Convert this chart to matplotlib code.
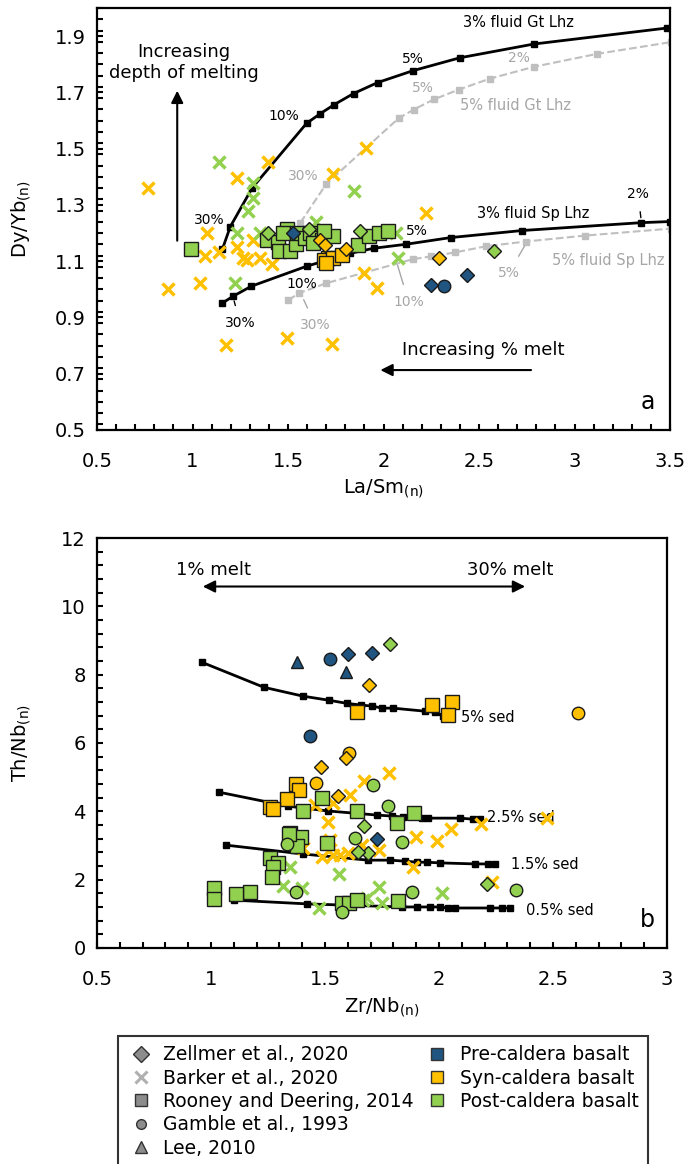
import numpy as np
import matplotlib
matplotlib.use("Agg")
import matplotlib.pyplot as plt
from matplotlib.lines import Line2D
from matplotlib.ticker import MultipleLocator

plt.rcParams['font.family'] = ['DejaVu Sans']
plt.rcParams['mathtext.default'] = 'regular'

blue = "#1F5580"
orange = "#FFC000"
green = "#92D050"
light = "#BFBFBF"
gtxt = "#A6A6A6"

# ---------------- panel a: La/Sm vs Dy/Yb ----------------
gt3_x = [1.156, 1.198, 1.313, 1.597, 1.670, 1.743, 1.843, 1.969, 2.153, 2.399, 2.787, 3.485]
gt3_y = [1.142, 1.223, 1.361, 1.590, 1.625, 1.657, 1.696, 1.735, 1.777, 1.823, 1.872, 1.929]
gt5_x = [1.565, 1.701, 2.079, 2.158, 2.263, 2.394, 2.557, 2.787, 3.118, 3.506]
gt5_y = [1.237, 1.375, 1.608, 1.639, 1.675, 1.710, 1.749, 1.791, 1.837, 1.879]
sp3_x = [1.156, 1.214, 1.308, 1.597, 1.827, 1.948, 2.116, 2.352, 2.725, 3.349, 3.5]
sp3_y = [0.951, 0.976, 1.011, 1.082, 1.128, 1.146, 1.160, 1.184, 1.209, 1.237, 1.241]
sp5_x = [1.502, 1.560, 1.701, 2.153, 2.247, 2.373, 2.536, 2.746, 3.055, 3.506]
sp5_y = [0.962, 0.987, 1.022, 1.107, 1.117, 1.131, 1.153, 1.170, 1.191, 1.216]

a_barker_syn_x = [0.768, 0.873, 1.040, 1.067, 1.077, 1.140, 1.235, 1.266, 1.287, 1.318, 1.355, 1.418,
                  1.235, 1.397, 1.733, 1.906, 2.221, 1.680, 1.896, 1.964, 1.177, 1.497, 1.728]
a_barker_syn_y = [1.362, 1.000, 1.021, 1.117, 1.199, 1.131, 1.149, 1.110, 1.103, 1.177, 1.113, 1.089,
                  1.397, 1.454, 1.411, 1.504, 1.270, 1.206, 1.057, 1.004, 0.801, 0.826, 0.805]
a_barker_post_x = [1.140, 1.318, 1.318, 1.292, 1.843, 1.644, 1.235, 1.355, 1.224, 2.074, 2.063]
a_barker_post_y = [1.454, 1.379, 1.326, 1.280, 1.348, 1.238, 1.202, 1.202, 1.021, 1.110, 1.199]
a_rooney_post_x = [0.993, 1.392, 1.450, 1.455, 1.513, 1.544, 1.497, 1.476, 1.549, 1.591, 1.617, 1.649,
                   1.680, 1.633, 1.738, 1.869, 1.922, 1.974, 2.021, 1.686]
a_rooney_post_y = [1.142, 1.177, 1.170, 1.135, 1.138, 1.160, 1.216, 1.202, 1.199, 1.181, 1.202, 1.184,
                   1.174, 1.163, 1.188, 1.156, 1.188, 1.202, 1.206, 1.209]
a_rooney_syn_x = [1.712, 1.686, 1.738, 1.785, 1.700]
a_rooney_syn_y = [1.113, 1.103, 1.113, 1.121, 1.095]
a_zellmer_post_x = [1.397, 1.612, 1.875, 2.578]
a_zellmer_post_y = [1.202, 1.216, 1.209, 1.138]
a_zellmer_syn_x = [1.670, 1.696, 1.806, 2.289]
a_zellmer_syn_y = [1.177, 1.156, 1.142, 1.110]
a_zellmer_pre_x = [1.528, 2.247, 2.436]
a_zellmer_pre_y = [1.199, 1.014, 1.050]
a_gamble_pre_x = [2.315]
a_gamble_pre_y = [1.011]

# ---------------- panel b: Zr/Nb vs Th/Nb ----------------
sed5_x = [0.961, 1.232, 1.404, 1.518, 1.596, 1.658, 1.706, 1.750, 1.798, 1.939, 1.982, 2.018]
sed5_y = [8.36, 7.63, 7.37, 7.25, 7.16, 7.11, 7.08, 7.02, 7.02, 6.93, 6.90, 6.78]
sed25_x = [1.035, 1.338, 1.513, 1.728, 1.794, 1.842, 1.925, 1.952, 2.092, 2.149, 2.180]
sed25_y = [4.56, 4.15, 4.01, 3.89, 3.86, 3.83, 3.80, 3.80, 3.80, 3.77, 3.77]
sed15_x = [1.066, 1.404, 1.689, 1.785, 1.851, 1.904, 1.947, 2.004, 2.158, 2.215, 2.246]
sed15_y = [3.01, 2.75, 2.57, 2.57, 2.54, 2.51, 2.51, 2.49, 2.46, 2.46, 2.46]
sed05_x = [1.101, 1.421, 1.838, 1.904, 1.961, 2.004, 2.039, 2.070, 2.224, 2.276, 2.311]
sed05_y = [1.40, 1.29, 1.20, 1.20, 1.20, 1.20, 1.17, 1.17, 1.17, 1.17, 1.17]

b_zellmer_pre_x = [1.601, 1.706, 1.728]
b_zellmer_pre_y = [8.60, 8.63, 3.19]
b_zellmer_syn_x = [1.693, 1.592, 1.482, 1.557]
b_zellmer_syn_y = [7.69, 5.56, 5.29, 4.44]
b_zellmer_post_x = [1.785, 1.671, 1.689, 1.645, 2.211]
b_zellmer_post_y = [8.89, 3.57, 2.78, 2.80, 1.87]
b_gamble_pre_x = [1.522, 1.434]
b_gamble_pre_y = [8.45, 6.20]
b_gamble_syn_x = [2.610, 1.605, 1.461]
b_gamble_syn_y = [6.87, 5.70, 4.82]
b_gamble_post_x = [1.711, 1.776, 1.632, 1.838, 1.333, 1.373, 1.575, 1.882, 2.338]
b_gamble_post_y = [4.77, 4.15, 3.22, 3.10, 3.04, 1.64, 1.05, 1.64, 1.70]
b_lee_pre_x = [1.377, 1.592]
b_lee_pre_y = [8.36, 8.07]
b_rooney_syn_x = [1.640, 1.969, 2.057, 2.039, 1.373, 1.386, 1.333, 1.259, 1.272]
b_rooney_syn_y = [6.90, 7.11, 7.19, 6.81, 4.80, 4.62, 4.36, 4.12, 4.06]
b_rooney_post_x = [1.487, 1.404, 1.640, 1.816, 1.890, 1.346, 1.395, 1.377, 1.509, 1.259, 1.294,
                   1.272, 1.268, 1.171, 1.013, 1.013, 1.110, 1.575, 1.605, 1.640, 1.820, 1.342]
b_rooney_post_y = [4.39, 4.01, 4.01, 3.65, 3.95, 3.36, 3.25, 2.98, 3.07, 2.63, 2.50,
                   2.38, 2.08, 1.64, 1.75, 1.43, 1.58, 1.32, 1.32, 1.40, 1.37, 3.33]
b_barker_syn_x = [1.456, 1.535, 1.610, 1.671, 1.781, 1.513, 1.522, 1.404, 1.487, 1.535, 1.566,
                  1.601, 1.662, 1.737, 1.899, 1.991, 2.053, 1.886, 2.184, 2.232, 2.474]
b_barker_syn_y = [4.18, 4.24, 4.47, 4.88, 5.12, 3.68, 3.16, 2.92, 2.66, 2.72, 2.72,
                  2.78, 3.01, 2.87, 3.25, 3.13, 3.48, 2.37, 3.63, 1.93, 3.80]
b_barker_post_x = [1.561, 1.316, 1.399, 1.474, 1.667, 1.684, 1.737, 1.750, 2.013, 1.346]
b_barker_post_y = [2.16, 1.81, 1.75, 1.17, 1.40, 1.46, 1.78, 1.32, 1.61, 2.37]

fig = plt.figure(figsize=(6.86, 11.64), dpi=100)
ax1 = fig.add_axes([0.1414, 0.6306, 0.8353, 0.3625])
ax2 = fig.add_axes([0.1414, 0.1856, 0.8309, 0.3522])

def pts(ax, x, y, marker, color, ms):
    if marker == 'x':
        ax.plot(x, y, ls='none', marker='x', color=color, ms=ms, mew=2.5, zorder=4)
    else:
        ax.plot(x, y, ls='none', marker=marker, mfc=color, mec='#1a1a1a', mew=1.0, ms=ms, zorder=5)

# panel a curves
ax1.plot(gt5_x, gt5_y, ls='--', color=light, lw=1.5, marker='s', ms=4.5, zorder=2)
ax1.plot(sp5_x, sp5_y, ls='--', color=light, lw=1.5, marker='s', ms=4.5, zorder=2)
ax1.plot(gt3_x, gt3_y, color='black', lw=2, marker='s', ms=4.5, zorder=3)
ax1.plot(sp3_x, sp3_y, color='black', lw=2, marker='s', ms=4.5, zorder=3)

pts(ax1, a_barker_syn_x, a_barker_syn_y, 'x', orange, 9)
pts(ax1, a_barker_post_x, a_barker_post_y, 'x', green, 9)
pts(ax1, a_rooney_post_x, a_rooney_post_y, 's', green, 9.5)
pts(ax1, a_rooney_syn_x, a_rooney_syn_y, 's', orange, 9.5)
pts(ax1, a_zellmer_post_x, a_zellmer_post_y, 'D', green, 7.5)
pts(ax1, a_zellmer_syn_x, a_zellmer_syn_y, 'D', orange, 7.5)
pts(ax1, a_zellmer_pre_x, a_zellmer_pre_y, 'D', blue, 7.5)
pts(ax1, a_gamble_pre_x, a_gamble_pre_y, 'o', blue, 9)

lab = dict(fontsize=10, ha='center', va='center')
ax1.text(2.704, 1.947, "3% fluid Gt Lhz", fontsize=10.5, ha='center', va='center')
ax1.text(2.153, 1.819, "5%", **lab)
ax1.text(1.476, 1.617, "10%", **lab)
ax1.text(1.088, 1.245, "30%", **lab)
ax1.text(2.709, 1.823, "2%", color=gtxt, **lab)
ax1.text(2.205, 1.716, "5%", color=gtxt, **lab)
ax1.text(2.693, 1.652, "5% fluid Gt Lhz", color=gtxt, fontsize=10.5, ha='center', va='center')
ax1.text(1.581, 1.404, "30%", color=gtxt, **lab)
ax1.text(2.782, 1.270, "3% fluid Sp Lhz", fontsize=10.5, ha='center', va='center')
ax1.text(2.174, 1.209, "5%", **lab)
ax1.text(3.176, 1.103, "5% fluid Sp Lhz", color=gtxt, fontsize=10.5, ha='center', va='center')
ax1.text(1.570, 1.018, "10%", **lab)

lead = dict(arrowstyle='-', lw=1, shrinkA=6, shrinkB=2)
ax1.annotate("2%", xy=(3.349, 1.245), xytext=(3.333, 1.340), arrowprops=dict(color='black', **lead), **lab)
ax1.annotate("30%", xy=(1.214, 0.968), xytext=(1.250, 0.879), arrowprops=dict(color='black', **lead), **lab)
ax1.annotate("30%", xy=(1.576, 0.972), xytext=(1.644, 0.872), color=gtxt,
             arrowprops=dict(color=gtxt, **lead), **lab)
ax1.annotate("10%", xy=(2.069, 1.096), xytext=(2.132, 0.954), color=gtxt,
             arrowprops=dict(color=gtxt, **lead), **lab)
ax1.annotate("5%", xy=(2.746, 1.163), xytext=(2.656, 1.057), color=gtxt,
             arrowprops=dict(color=gtxt, **lead), **lab)

ax1.text(0.956, 1.807, "Increasing\ndepth of melting", fontsize=13, ha='center', va='center', linespacing=1.25)
ax1.annotate("", xy=(0.92, 1.716), xytext=(0.92, 1.163),
             arrowprops=dict(arrowstyle='-|>', color='black', lw=1.5, mutation_scale=18))
ax1.text(2.52, 0.784, "Increasing % melt", fontsize=13, ha='center', va='center')
ax1.annotate("", xy=(1.969, 0.713), xytext=(2.787, 0.713),
             arrowprops=dict(arrowstyle='-|>', color='black', lw=1.5, mutation_scale=18))
ax1.text(0.9616, 0.066, "a", transform=ax1.transAxes, fontsize=17, ha='center', va='center')

ax1.set_xlim(0.5, 3.5)
ax1.set_ylim(0.5, 2.0)
ax1.xaxis.set_minor_locator(MultipleLocator(0.1))
ax1.yaxis.set_minor_locator(MultipleLocator(0.04))
ax1.set_yticks(np.arange(0.5, 2.0, 0.2))
ax1.set_yticklabels(["0.5", "0.7", "0.9", "1.1", "1.3", "1.5", "1.7", "1.9"])
ax1.set_xticks(np.arange(0.5, 3.51, 0.5))
ax1.set_xticklabels(["0.5", "1", "1.5", "2", "2.5", "3", "3.5"])
ax1.set_xlabel("La/Sm$_{(n)}$", fontsize=14, labelpad=5)
ax1.set_ylabel("Dy/Yb$_{(n)}$", fontsize=14, labelpad=16)

# panel b curves
for cx, cy in [(sed5_x, sed5_y), (sed25_x, sed25_y), (sed15_x, sed15_y), (sed05_x, sed05_y)]:
    ax2.plot(cx, cy, color='black', lw=2, marker='s', ms=5, zorder=3)

pts(ax2, b_barker_syn_x, b_barker_syn_y, 'x', orange, 9)
pts(ax2, b_barker_post_x, b_barker_post_y, 'x', green, 9)
pts(ax2, b_rooney_post_x, b_rooney_post_y, 's', green, 9.5)
pts(ax2, b_rooney_syn_x, b_rooney_syn_y, 's', orange, 9.5)
pts(ax2, b_gamble_post_x, b_gamble_post_y, 'o', green, 9)
pts(ax2, b_gamble_syn_x, b_gamble_syn_y, 'o', orange, 9)
pts(ax2, b_gamble_pre_x, b_gamble_pre_y, 'o', blue, 9)
pts(ax2, b_zellmer_post_x, b_zellmer_post_y, 'D', green, 7.5)
pts(ax2, b_zellmer_syn_x, b_zellmer_syn_y, 'D', orange, 7.5)
pts(ax2, b_zellmer_pre_x, b_zellmer_pre_y, 'D', blue, 7.5)
pts(ax2, b_lee_pre_x, b_lee_pre_y, '^', blue, 9)

ax2.text(2.096, 6.75, "5% sed", fontsize=10.5, ha='left', va='center')
ax2.text(2.211, 3.83, "2.5% sed", fontsize=10.5, ha='left', va='center')
ax2.text(2.316, 2.43, "1.5% sed", fontsize=10.5, ha='left', va='center')
ax2.text(2.382, 1.11, "0.5% sed", fontsize=10.5, ha='left', va='center')
ax2.annotate("", xy=(0.952, 10.58), xytext=(2.390, 10.58),
             arrowprops=dict(arrowstyle='<|-|>', color='black', lw=1.5, mutation_scale=18))
ax2.text(1.013, 11.05, "1% melt", fontsize=13, ha='center', va='center')
ax2.text(2.311, 11.05, "30% melt", fontsize=13, ha='center', va='center')
ax2.text(0.965, 0.068, "b", transform=ax2.transAxes, fontsize=17, ha='center', va='center')

ax2.set_xlim(0.5, 3.0)
ax2.set_ylim(0, 12)
ax2.xaxis.set_minor_locator(MultipleLocator(0.1))
ax2.yaxis.set_major_locator(MultipleLocator(2))
ax2.yaxis.set_minor_locator(MultipleLocator(0.4))
ax2.set_xticks(np.arange(0.5, 3.01, 0.5))
ax2.set_xticklabels(["0.5", "1", "1.5", "2", "2.5", "3"])
ax2.set_xlabel("Zr/Nb$_{(n)}$", fontsize=14, labelpad=5)
ax2.set_ylabel("Th/Nb$_{(n)}$", fontsize=14, labelpad=20)

for ax in (ax1, ax2):
    for s in ax.spines.values():
        s.set_linewidth(1.6)
    ax.tick_params(which='both', direction='in', width=1.5, length=4, labelsize=14)
    ax.tick_params(axis='x', which='both', pad=16)
    ax.tick_params(axis='y', which='both', pad=8)
    ax.tick_params(which='both', top=False, right=False)

# legend
lg = "#8C8C8C"
handles = [
    Line2D([], [], ls='none', marker='D', mfc=lg, mec='#333333', ms=8),
    Line2D([], [], ls='none', marker='x', color='#B0B0B0', ms=8, mew=2.2),
    Line2D([], [], ls='none', marker='s', mfc=lg, mec='#333333', ms=9),
    Line2D([], [], ls='none', marker='o', mfc=lg, mec='#333333', ms=7),
    Line2D([], [], ls='none', marker='^', mfc=lg, mec='#333333', ms=9),
    Line2D([], [], ls='none', marker='s', mfc=blue, mec='#333333', ms=9),
    Line2D([], [], ls='none', marker='s', mfc=orange, mec='#333333', ms=9),
    Line2D([], [], ls='none', marker='s', mfc=green, mec='#333333', ms=9),
    Line2D([], [], ls='none'),
    Line2D([], [], ls='none'),
]
labels = ["Zellmer et al., 2020", "Barker et al., 2020", "Rooney and Deering, 2014",
          "Gamble et al., 1993", "Lee, 2010", "Pre-caldera basalt", "Syn-caldera basalt",
          "Post-caldera basalt", "", ""]
leg = fig.legend(handles, labels, ncol=2, loc='upper left', bbox_to_anchor=(118 / 686, 1 - 1036 / 1164),
                 fontsize=13.5, frameon=True, fancybox=False, edgecolor='black', handlelength=1.4,
                 handletextpad=0.5, columnspacing=0.55, labelspacing=0.23, borderpad=0.5, borderaxespad=0)
leg.get_frame().set_linewidth(1.5)

fig.savefig("out.png", dpi=100)
